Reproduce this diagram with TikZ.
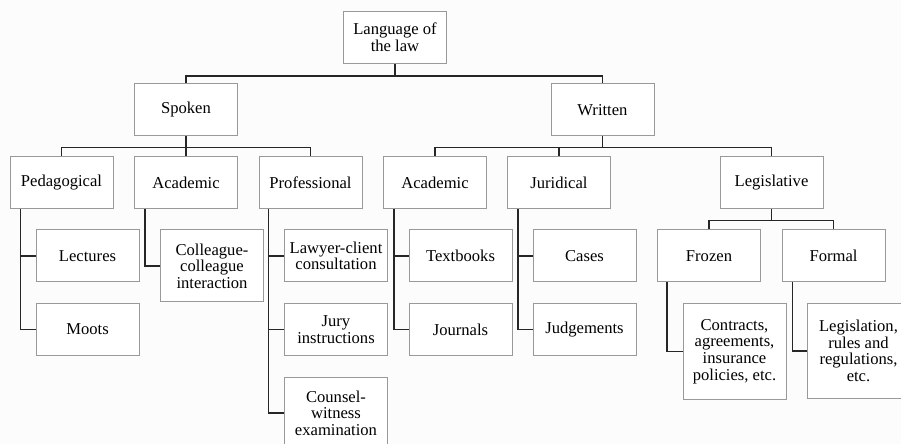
\documentclass[tikz,border=0pt]{standalone}
\usepackage{fontspec}
\setmainfont{Liberation Serif}
\usepackage{tikz}
\usetikzlibrary{positioning}

\begin{document}
\begin{tikzpicture}[
    x=0.5pt, y=-0.5pt,
    box/.style={rectangle, draw=black!40, line width=0.5pt, fill=white, minimum width=51.5pt, minimum height=26pt, align=center, inner sep=1pt, font=\fontsize{8.3}{8.3}\selectfont},
    tall/.style={box, minimum height=36pt},
    taller/.style={box, minimum height=47.5pt},
    link/.style={line width=0.85pt, black!85}
]
\useasboundingbox[fill=black!1] (0,0) rectangle (901,444);

% top levels
\node[box] (law)     at (395,37.5) {Language of\\the law};
\node[box] (spoken)  at (186,110)  {Spoken};
\node[box] (written) at (602.5,110) {Written};

\node[box] (peda)   at (61.5,183)  {Pedagogical};
\node[box] (acads)  at (186,183)   {Academic};
\node[box] (prof)   at (310.5,183) {Professional};
\node[box] (acadw)  at (435,183)   {Academic};
\node[box] (jurid)  at (559,183)   {Juridical};
\node[box] (legis)  at (771.5,183) {Legislative};

% leaves
\node[box]  (lectures)  at (87.5,256)   {Lectures};
\node[box]  (moots)     at (87.5,329.5) {Moots};
\node[tall] (colleague) at (212,266)    {Colleague-\\colleague\\interaction};
\node[box]  (lawyer)    at (336,256)    {Lawyer-client\\consultation};
\node[box]  (jury)      at (336,329.5)  {Jury\\instructions};
\node[tall] (counsel)   at (336,413)    {Counsel-\\witness\\examination};
\node[box]  (textbooks) at (460.5,256)  {Textbooks};
\node[box]  (journals)  at (460.5,329.5) {Journals};
\node[box]  (cases)     at (584.5,256)  {Cases};
\node[box]  (judge)     at (584.5,329.5) {Judgements};
\node[box]  (frozen)    at (709,256)    {Frozen};
\node[box]  (formal)    at (833.5,256)  {Formal};
\node[taller] (contracts)   at (734.5,351.5) {Contracts,\\agreements,\\insurance\\policies, etc.};
\node[taller] (legislation) at (858.5,351)   {Legislation,\\rules and\\regulations,\\etc.};

% tree bars
\draw[link] (law.south) -- ++(0,12) -| (spoken.north);
\draw[link] (law.south) -- ++(0,12) -| (written.north);
\foreach \kid in {peda, acads, prof}
    \draw[link] (spoken.south) -- ++(0,11) -| (\kid.north);
\foreach \kid in {acadw, jurid, legis}
    \draw[link] (written.south) -- ++(0,11) -| (\kid.north);
\foreach \kid in {frozen, formal}
    \draw[link] (legis.south) -- ++(0,11) -| (\kid.north);

% side branches
\draw[link] ([xshift=5.5pt]peda.south west)   |- (lectures.west);
\draw[link] ([xshift=5.5pt]peda.south west)   |- (moots.west);
\draw[link] ([xshift=5.5pt]acads.south west)  |- (colleague.west);
\draw[link] ([xshift=5pt]prof.south west)     |- (lawyer.west);
\draw[link] ([xshift=5pt]prof.south west)     |- (jury.west);
\draw[link] ([xshift=5pt]prof.south west)     |- (counsel.west);
\draw[link] ([xshift=5.5pt]acadw.south west)  |- (textbooks.west);
\draw[link] ([xshift=5.5pt]acadw.south west)  |- (journals.west);
\draw[link] ([xshift=5.5pt]jurid.south west)  |- (cases.west);
\draw[link] ([xshift=5.5pt]jurid.south west)  |- (judge.west);
\draw[link] ([xshift=5pt]frozen.south west)   |- (contracts.west);
\draw[link] ([xshift=5.5pt]formal.south west) |- (legislation.west);
\end{tikzpicture}
\end{document}
